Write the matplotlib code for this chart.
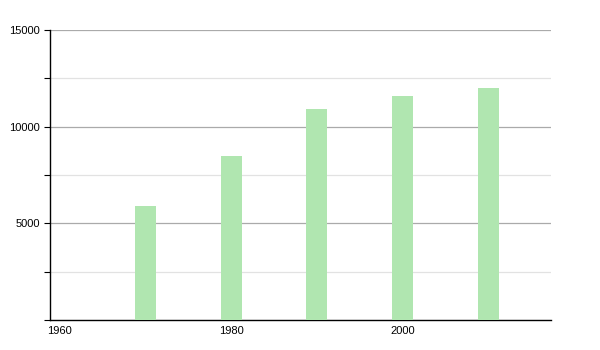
import matplotlib
matplotlib.use("Agg")
import matplotlib.pyplot as plt
from matplotlib.ticker import MultipleLocator

years = [1970, 1980, 1990, 2000, 2010]
values = [5900, 8480, 10900, 11600, 12000]
xticks = [1960, 1980, 2000]
yticks = [5000, 10000, 15000]

plt.rcParams['font.family'] = ['Liberation Sans', 'DejaVu Sans']

fig = plt.figure(figsize=(6, 3.5), dpi=100)
ax = fig.add_axes([50/600, 30/350, 501/600, 290/350])
ax.bar(years, values, width=2.45, color='#b0e6b0', zorder=3)
ax.set_xlim(1958.86, 2017.3)
ax.set_ylim(0, 15000)
ax.set_yticks(yticks)
ax.set_yticklabels([str(v) for v in yticks])
ax.yaxis.set_minor_locator(MultipleLocator(2500))
ax.set_xticks(xticks)
ax.set_xticklabels([str(v) for v in xticks])
ax.grid(axis='y', which='major', color='#aaaaaa', linewidth=0.9, zorder=0)
ax.grid(axis='y', which='minor', color='#e2e2e2', linewidth=0.9, zorder=0)
for s in ['top', 'right']:
    ax.spines[s].set_visible(False)
for s in ['left', 'bottom']:
    ax.spines[s].set_color('black')
    ax.spines[s].set_linewidth(1.0)
ax.tick_params(axis='y', which='both', direction='out', length=4, width=0.8, labelsize=8, pad=3)
ax.tick_params(axis='x', which='both', length=0, labelsize=8, pad=4)
fig.savefig('out.png', dpi=100)
